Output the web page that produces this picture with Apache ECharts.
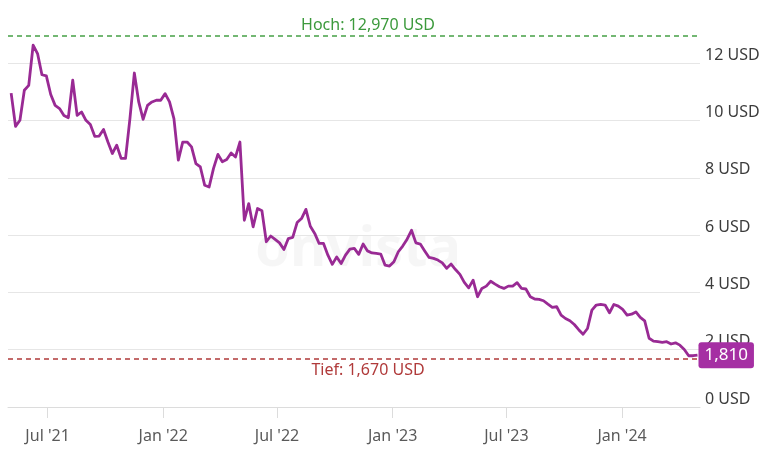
<!DOCTYPE html>
<html>
<head>
<meta charset="utf-8">
<script src="https://cdn.jsdelivr.net/npm/echarts@6/dist/echarts.min.js"></script>
<style>
html,body{margin:0;padding:0;background:#fff;}
#c{width:768px;height:454px;}
</style>
</head>
<body>
<div id="c"></div>
<script>
// Weekly closing prices (USD), first week 2021-05-04
const firstWeek = '2021-05-04';
const prices = [
  10.96, 9.80, 10.01, 11.06, 11.23, 12.63, 12.34, 11.60, 11.56, 10.91,
  10.53, 10.42, 10.18, 10.10, 11.41, 10.18, 10.30, 10.01, 9.86, 9.45,
  9.46, 9.69, 9.25, 8.85, 9.14, 8.68, 8.68, 10.07, 11.66, 10.65,
  10.04, 10.53, 10.65, 10.71, 10.71, 10.94, 10.65, 10.07, 8.62, 9.25,
  9.25, 9.08, 8.50, 8.38, 7.74, 7.68, 8.33, 8.82, 8.56, 8.64,
  8.87, 8.73, 9.25, 6.52, 7.10, 6.29, 6.93, 6.85, 5.77, 5.97,
  5.85, 5.73, 5.50, 5.88, 5.92, 6.44, 6.58, 6.90, 6.31, 6.06,
  5.71, 5.71, 5.30, 4.98, 5.24, 5.01, 5.30, 5.51, 5.54, 5.33,
  5.69, 5.45, 5.38, 5.36, 5.34, 4.95, 4.92, 5.07, 5.42, 5.62,
  5.86, 6.17, 5.73, 5.69, 5.45, 5.22, 5.19, 5.13, 5.03, 4.84,
  4.99, 4.80, 4.63, 4.35, 4.16, 4.43, 3.85, 4.14, 4.22, 4.39,
  4.29, 4.20, 4.14, 4.22, 4.22, 4.34, 4.14, 4.12, 3.85, 3.77,
  3.76, 3.71, 3.59, 3.48, 3.50, 3.21, 3.09, 3.01, 2.88, 2.70,
  2.54, 2.74, 3.38, 3.56, 3.58, 3.56, 3.29, 3.58, 3.52, 3.41,
  3.21, 3.24, 3.32, 3.13, 3.01, 2.40, 2.30, 2.28, 2.26, 2.28,
  2.20, 2.24, 2.16, 2.01, 1.79, 1.79, 1.81
];
const highValue = 12.97;
const lowValue = 1.67;
const yTicks = [0, 2, 4, 6, 8, 10, 12];
const monthNames = ['Jan','Feb','Mar','Apr','May','Jun','Jul','Aug','Sep','Oct','Nov','Dec'];

const DAY = 86400000;
const t0 = new Date(firstWeek + 'T00:00:00').getTime();
const seriesData = prices.map((v, i) => [t0 + i * 7 * DAY, v]);
const tEnd = seriesData[seriesData.length - 1][0];

function de(v, d) { return v.toFixed(d).replace('.', ','); }

const chart = echarts.init(document.getElementById('c'), null, {renderer: 'canvas'});
const FONT = 'Noto Sans';
chart.setOption({
  animation: false,
  backgroundColor: '#ffffff',
  textStyle: {fontFamily: FONT},
  grid: {left: 8, right: 68, top: 6, bottom: 47, containLabel: false},
  graphic: [{
    type: 'text', left: 255, top: 222, silent: true, z: 0,
    style: {text: 'onvista', fill: 'rgba(0,0,0,0.035)', font: 'bold 56px ' + FONT}
  }],
  xAxis: {
    type: 'time',
    min: t0 - 5 * DAY,
    max: tEnd + 4 * DAY,
    offset: 9,
    minInterval: 180 * DAY,
    maxInterval: 186 * DAY,
    splitLine: {show: false},
    axisLine: {show: true, lineStyle: {color: '#dcdcdc', width: 1}},
    axisTick: {show: true, length: 11, lineStyle: {color: '#dcdcdc'}},
    axisLabel: {
      color: '#5a5a5a', fontSize: 16, margin: 12, fontFamily: FONT,
      showMinLabel: false, showMaxLabel: false,
      formatter: function (v) {
        const d = new Date(v);
        return monthNames[d.getMonth()] + " '" + String(d.getFullYear()).slice(2);
      }
    }
  },
  yAxis: {
    type: 'value',
    position: 'right',
    min: 0, max: 14, interval: 2,
    axisLine: {show: false},
    axisTick: {show: false},
    splitLine: {show: true, lineStyle: {color: ['#e6e6e6','#e6e6e6','#e6e6e6','#e6e6e6','#e6e6e6','#e6e6e6','#e6e6e6','rgba(0,0,0,0)'], width: 1}},
    axisLabel: {
      color: '#3c3c3c', fontSize: 16, margin: 5, fontFamily: FONT,
      verticalAlign: 'bottom', padding: [0, 0, 0, 0],
      formatter: function (v) { return yTicks.indexOf(v) >= 0 ? v + ' USD' : ''; }
    }
  },
  series: [{
    type: 'line',
    data: seriesData,
    showSymbol: false,
    symbol: 'none',
    lineStyle: {color: '#992a94', width: 2.8, join: 'round'},
    itemStyle: {color: '#992a94'},
    z: 5,
    endLabel: {
      show: true,
      distance: 1,
      formatter: function (p) { return de(p.value[1], 3); },
      backgroundColor: '#a52fa3',
      borderRadius: 3,
      color: '#ffffff',
      fontSize: 17,
      fontFamily: FONT,
      padding: [5, 6, 4, 6]
    },
    markLine: {
      silent: true,
      symbol: ['none', 'none'],
      z: 3,
      data: [
        {
          yAxis: highValue,
          lineStyle: {color: '#45a045', type: [5, 4], width: 1.5},
          label: {
            show: true, position: 'insideMiddleTop', distance: 2,
            formatter: 'Hoch: ' + de(highValue, 3) + ' USD',
            color: '#3c9a3c', fontSize: 16, fontFamily: FONT, padding: [0, 0, 0, 28]
          }
        },
        {
          yAxis: lowValue,
          lineStyle: {color: '#b03a3a', type: [5, 4], width: 1.5},
          label: {
            show: true, position: 'insideMiddleBottom', distance: 3,
            formatter: 'Tief: ' + de(lowValue, 3) + ' USD',
            color: '#b03a3a', fontSize: 16, fontFamily: FONT, padding: [0, 0, 0, 28]
          }
        }
      ]
    }
  }]
});
</script>
</body>
</html>
